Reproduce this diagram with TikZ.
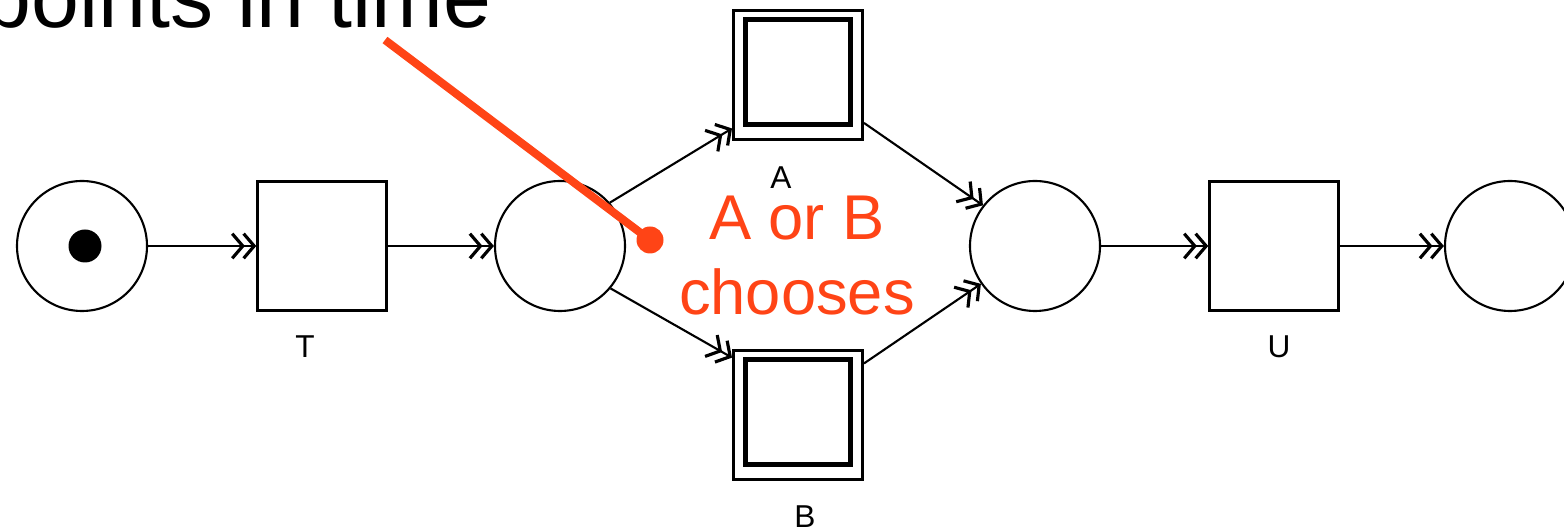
\documentclass[tikz,border=0pt]{standalone}
\usepackage{fontspec}
\setmainfont{Liberation Sans}
\usetikzlibrary{arrows.meta}
\definecolor{hintred}{RGB}{255,68,22}
\begin{document}
\begin{tikzpicture}[
    place/.style={draw,circle,line width=0.6pt,minimum size=1.3cm,inner sep=0pt},
    trans/.style={draw,rectangle,line width=0.7pt,minimum size=1.29cm,inner sep=0pt},
    choice/.style={draw,rectangle,line width=0.85pt,minimum size=1.29cm,inner sep=0pt},
    choiceinner/.style={draw,rectangle,line width=1.4pt,minimum size=1.05cm,inner sep=0pt},
    tokendot/.style={fill,circle,minimum size=0.33cm,inner sep=0pt},
    tlabel/.style={font=\fontsize{9}{10}\selectfont,inner sep=0pt},
    flow/.style={line width=0.6pt,-{Straight Barb[length=3pt,width=7pt,line width=0.9pt,sep=-0.8pt]Straight Barb[length=3pt,width=7pt,line width=0.9pt]}}
  ]
  \useasboundingbox (0,0) rectangle (15.64,5.31);
  \clip (0,0) rectangle (15.64,5.31);
  \draw
    (0.82,2.85) node[place] (p0){}
    (3.22,2.85) node[trans] (T){}
    (5.60,2.85) node[place] (p1){}
    (7.98,4.56) node[choice] (A){}
    (7.98,1.16) node[choice] (B){}
    (10.35,2.85) node[place] (p2){}
    (12.74,2.85) node[trans] (U){}
    (15.10,2.85) node[place] (p3){};
  \node[tokendot] (tok) at ([xshift=0.03cm]p0.center) {};
  \node[choiceinner] (Ain) at ([yshift=0.03cm]A.center) {};
  \node[choiceinner] (Bin) at ([yshift=0.03cm]B.center) {};
  \draw
    (3.05,1.84) node[tlabel] (Tlab){T}
    (7.81,3.53) node[tlabel] (Alab){A}
    (8.05,0.14) node[tlabel] (Blab){B}
    (12.79,1.84) node[tlabel] (Ulab){U};
  \begin{scope}[flow]
    \draw (p0) to (T);
    \draw (T) to (p1);
    \draw (p1.41) to (A.219);
    \draw (p1.320) to (B.139);
    \draw (A.324) to (p2.142);
    \draw (B.38) to (p2.215);
    \draw (p2) to (U);
    \draw (U) to (p3);
  \end{scope}
  % slide text and hint
  \node[anchor=base east,inner sep=0pt,font=\fontsize{24.5}{28}\selectfont] (heading) at (4.92,5.03) {points in time};
  \node[anchor=north,align=center,inner sep=0pt,text=hintred,font=\fontsize{18}{21.5}\selectfont] (hint) at (7.97,3.36) {A or B\\chooses};
  \coordinate (pintop) at (3.85,4.91);
  \node[circle,fill=hintred,minimum size=0.27cm,inner sep=0pt] (pin) at (6.50,2.91) {};
  \draw[hintred,line width=2.3pt] (pintop) -- (pin.center);
\end{tikzpicture}
\end{document}
